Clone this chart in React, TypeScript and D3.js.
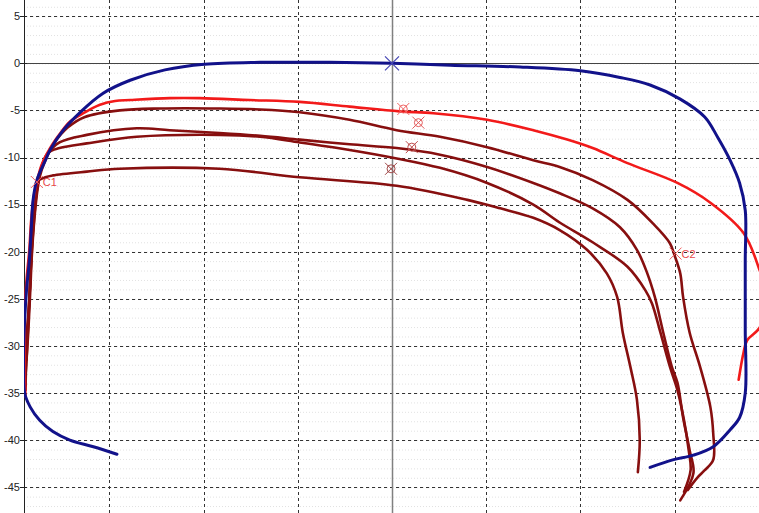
import React from "react";
import * as d3 from "d3";

type P = [number, number];

const yTicks = [5, 0, -5, -10, -15, -20, -25, -30, -35, -40, -45];
const xGrid = [-30, -20, -10, 10, 20, 30];
const yMinor = d3.range(6, -48, -1);

const blueProfile: P[] = [
  [-29.2, -41.5], [-31.7, -40.7], [-34.2, -40.0], [-36.0, -39.1], [-37.4, -37.9], [-38.4, -36.5],
  [-39.0, -35.0], [-39.1, -32.6], [-39.1, -30.1], [-39.0, -27.3], [-38.8, -24.1], [-38.5, -20.9],
  [-38.3, -17.7], [-38.1, -14.5], [-37.7, -12.4], [-36.8, -10.3], [-36.3, -9.2], [-34.9, -7.1],
  [-33.1, -5.2], [-30.7, -3.2], [-27.8, -1.8], [-24.1, -0.7], [-19.9, -0.1], [-14.0, 0.1],
  [-6.6, 0.1], [0, 0], [6.2, -0.2], [13.6, -0.4], [20.0, -0.8], [24.2, -1.5], [27.4, -2.3],
  [30.6, -3.8], [33.2, -5.7], [34.6, -7.9], [35.9, -10.3], [36.9, -12.7], [37.5, -15.6],
  [37.5, -20.9], [37.5, -28.3], [37.5, -35.0], [36.9, -37.6], [35.9, -38.9], [34.1, -40.7],
  [32.0, -41.6], [29.8, -42.1], [27.4, -42.9],
];

const redProfile: P[] = [
  [-38.9, -35.4], [-39.0, -32.6], [-39.0, -29.4], [-39.0, -26.2], [-38.8, -23.0], [-38.5, -19.8],
  [-38.3, -16.6], [-38.0, -14.0], [-37.7, -12.6], [-37.2, -10.8], [-36.3, -9.0], [-35.2, -7.4],
  [-34.2, -6.2], [-32.6, -5.2], [-31.0, -4.4], [-29.4, -4.0], [-27.8, -3.9], [-23.6, -3.7],
  [-20.4, -3.7], [-15.1, -3.9], [-9.8, -4.1], [-4.5, -4.6], [0.8, -5.1], [4.4, -5.3],
  [10.1, -6.0], [15.0, -7.1], [18.6, -8.1], [21.3, -9.0], [25.0, -10.6], [30.3, -12.7],
  [33.8, -14.8], [37.3, -18.0], [39.0, -21.9], [39.9, -25.1], [39.0, -28.1], [37.7, -29.4],
  [37.3, -30.8], [36.8, -33.6],
];

const dark1: P[] = [
  [-38.8, -31.5], [-38.6, -27.3], [-38.4, -23.0], [-38.2, -18.8], [-37.9, -15.0], [-37.5, -12.4],
  [-36.8, -10.3], [-35.8, -8.4], [-34.4, -6.8], [-32.6, -5.7], [-28.9, -5.0], [-24.6, -4.8],
  [-18.3, -4.8], [-14.0, -4.9], [-9.8, -5.2], [-4.5, -6.0], [0.5, -7.1], [5.1, -7.8],
  [10.1, -8.9], [15.0, -10.3], [17.8, -11.0], [21.3, -12.4], [25.0, -14.5], [27.7, -17.0],
  [29.5, -19.1], [30.0, -20.4], [30.6, -22.3], [30.9, -24.8], [31.6, -28.6], [32.7, -32.2],
  [33.8, -36.5], [34.1, -39.3], [34.1, -42.1], [33.2, -43.2], [32.4, -44.0], [31.4, -45.3],
];

const dark2: P[] = [
  [-38.9, -34.2], [-38.8, -29.4], [-38.5, -25.1], [-38.3, -20.9], [-38.0, -16.6], [-37.7, -13.5],
  [-37.3, -11.3], [-36.6, -9.7], [-35.3, -8.4], [-32.4, -7.6], [-27.1, -6.9], [-23.6, -7.1],
  [-18.3, -7.4], [-14.0, -7.7], [-9.8, -8.1], [-4.5, -8.6], [0.5, -9.0], [5.1, -9.7],
  [10.1, -11.0], [15.0, -12.7], [17.8, -13.8], [21.3, -15.4], [24.2, -17.4], [26.0, -19.8],
  [27.1, -22.3], [27.9, -24.8], [28.8, -28.6], [29.7, -32.2], [30.3, -33.9], [30.9, -37.6],
  [31.6, -41.1], [32.0, -43.5], [30.6, -46.4],
];

const dark3: P[] = [
  [-38.9, -33.1], [-38.6, -28.3], [-38.4, -24.1], [-38.2, -19.8], [-37.9, -15.8], [-37.6, -13.2],
  [-37.2, -11.0], [-36.5, -9.5], [-35.3, -9.0], [-32.4, -8.5], [-27.1, -7.8], [-18.3, -7.6],
  [-14.0, -7.8], [-9.8, -8.4], [-4.5, -9.2], [0.5, -10.1], [5.1, -11.1], [10.1, -12.7],
  [15.0, -15.0], [17.8, -16.9], [21.3, -19.0], [25.0, -21.6], [26.9, -24.1], [27.6, -25.5],
  [28.5, -28.6], [29.5, -32.2], [30.3, -34.7], [31.0, -37.9], [31.5, -41.1], [31.7, -43.2],
  [31.0, -45.5],
];

const dark4: P[] = [
  [-38.9, -34.7], [-38.8, -30.4], [-38.5, -25.1], [-38.3, -20.4], [-38.1, -16.1], [-37.9, -14.0],
  [-37.7, -12.6], [-36.8, -12.1], [-36.0, -11.9], [-32.4, -11.5], [-28.9, -11.2], [-18.3, -11.2],
  [-9.8, -12.1], [0.5, -13.0], [8.0, -14.5], [11.5, -15.4], [15.0, -16.4], [17.8, -17.7],
  [20.7, -19.8], [22.8, -22.3], [23.9, -24.8], [24.5, -28.6], [25.3, -32.2], [26.0, -35.7],
  [26.3, -40.0], [26.1, -43.4],
];

const circleMarks: { x: number; y: number; color: string }[] = [
  { x: 1.2, y: -4.85, color: "#f06464" },
  { x: 2.8, y: -6.3, color: "#e35c5c" },
  { x: 2.1, y: -8.9, color: "#bf4c4c" },
  { x: -0.1, y: -11.2, color: "#a04848" },
];

const pointLabels: { x: number; y: number; text: string }[] = [
  { x: -37.7, y: -12.6, text: "C1" },
  { x: 30.1, y: -20.2, text: "C2" },
];

const W = 759;
const H = 513;
const LEFT = 24;

export default function App() {
  const x = d3.scaleLinear().domain([-10, 10]).range([392 - 94.2, 392 + 94.2]);
  const y = d3.scaleLinear().domain([5, -45]).range([16.2, 487.2]);
  const line = d3
    .line<P>()
    .x((d) => x(d[0]))
    .y((d) => y(d[1]))
    .curve(d3.curveCatmullRom.alpha(0.5));

  const darkColor = "#870f0f";
  const font = "'Liberation Sans', Arial, sans-serif";

  return (
    <svg
      width={W}
      height={H}
      style={{ position: "absolute", left: 0, top: 0, background: "#fff" }}
    >
      <defs>
        <clipPath id="plot">
          <rect x={LEFT} y={0} width={W - LEFT} height={H} />
        </clipPath>
      </defs>
      {/* faint minor grid */}
      {yMinor.map((v) => (
        <line
          key={"m" + v}
          x1={LEFT}
          x2={W}
          y1={y(v) + 0.5}
          y2={y(v) + 0.5}
          stroke="#e2e2e2"
          strokeDasharray="1,2"
        />
      ))}
      {/* vertical dashed grid */}
      {xGrid.map((v) => (
        <line
          key={"vx" + v}
          x1={Math.round(x(v)) + 0.5}
          x2={Math.round(x(v)) + 0.5}
          y1={0}
          y2={H}
          stroke="#333"
          strokeDasharray="3,3"
        />
      ))}
      {/* horizontal dashed grid */}
      {yTicks
        .filter((v) => v !== 0)
        .map((v) => (
          <line
            key={"hy" + v}
            x1={LEFT}
            x2={W}
            y1={Math.round(y(v)) + 0.5}
            y2={Math.round(y(v)) + 0.5}
            stroke="#333"
            strokeDasharray="3,3"
          />
        ))}
      {/* zero lines */}
      <line x1={LEFT} x2={W} y1={Math.round(y(0)) + 0.5} y2={Math.round(y(0)) + 0.5} stroke="#444" />
      <line
        x1={Math.round(x(0)) + 0.5}
        x2={Math.round(x(0)) + 0.5}
        y1={0}
        y2={H}
        stroke="#808080"
        strokeWidth={1.5}
      />
      {/* y axis */}
      <line x1={LEFT + 0.5} x2={LEFT + 0.5} y1={0} y2={H} stroke="#222" />
      {yTicks.map((v) => (
        <g key={"t" + v}>
          <line
            x1={LEFT - 4}
            x2={LEFT + 3}
            y1={Math.round(y(v)) + 0.5}
            y2={Math.round(y(v)) + 0.5}
            stroke="#222"
          />
          <text
            x={LEFT - 4}
            y={y(v)}
            dy="0.35em"
            textAnchor="end"
            fontFamily={font}
            fontSize={11}
            fill="#222"
          >
            {v}
          </text>
        </g>
      ))}
      <g clipPath="url(#plot)" fill="none" strokeLinejoin="round" strokeLinecap="round">
        {[dark4, dark3, dark2, dark1].map((d, i) => (
          <path key={"d" + i} d={line(d) || ""} stroke={darkColor} strokeWidth={2.6} />
        ))}
        <path d={line(redProfile) || ""} stroke="#f21a1a" strokeWidth={2.6} />
        <path d={line(blueProfile) || ""} stroke="#12128a" strokeWidth={3} />
      </g>
      {/* markers */}
      {circleMarks.map((m, i) => (
        <g key={"c" + i} stroke={m.color} strokeWidth={1} fill="none">
          <circle cx={x(m.x)} cy={y(m.y)} r={4} />
          <line x1={x(m.x) - 6} x2={x(m.x) + 6} y1={y(m.y) - 6} y2={y(m.y) + 6} />
          <line x1={x(m.x) - 6} x2={x(m.x) + 6} y1={y(m.y) + 6} y2={y(m.y) - 6} />
        </g>
      ))}
      <g stroke="#4646b4" strokeWidth={1.2}>
        <line x1={x(0) - 7} x2={x(0) + 7} y1={y(0) - 7} y2={y(0) + 7} />
        <line x1={x(0) - 7} x2={x(0) + 7} y1={y(0) + 7} y2={y(0) - 7} />
      </g>
      {pointLabels.map((p) => (
        <g key={p.text}>
          <line x1={x(p.x) - 6} x2={x(p.x) + 6} y1={y(p.y) - 6} y2={y(p.y) + 6} stroke="#f06060" />
          <line x1={x(p.x) - 6} x2={x(p.x) + 6} y1={y(p.y) + 6} y2={y(p.y) - 6} stroke="#f06060" />
          <text
            x={x(p.x) + 6}
            y={y(p.y) + 4}
            fontFamily={font}
            fontSize={11}
            fill="#e84848"
          >
            {p.text}
          </text>
        </g>
      ))}
    </svg>
  );
}
